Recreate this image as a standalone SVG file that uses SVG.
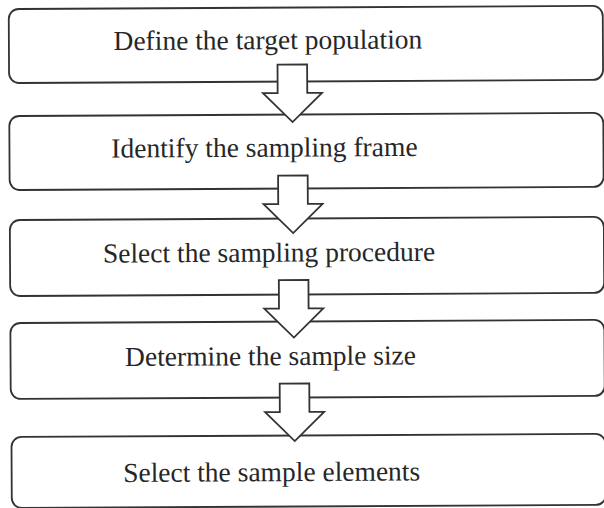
<svg xmlns="http://www.w3.org/2000/svg" width="604" height="508" viewBox="0 0 604 508">
  <style>
    .box { fill: #ffffff; stroke: #333333; stroke-width: 1.8; }
    .label { font-family: "Liberation Serif", "Times New Roman", serif; font-size: 27.5px; fill: #262626; text-anchor: middle; }
    .flow { fill: #ffffff; stroke: #333333; stroke-width: 1.8; stroke-linejoin: miter; }
  </style>
  <defs>
    <!-- block arrow: shaft 30 wide, head 59 wide, local origin at shaft top centre -->
    <path id="blockArrow" d="M -14.8 0 L 14.8 0 L 14.8 28.5 L 29.5 28.5 L 0 57.5 L -29.5 28.5 L -14.8 28.5 Z"/>
  </defs>
  <rect width="604" height="508" fill="#ffffff"/>
  <g transform="rotate(-0.3 302 254)">
    <g id="step-define-population">
      <rect class="box" x="10" y="7.5" width="594" height="74" rx="10"/>
      <text class="label" x="269" y="49">Define the target population</text>
    </g>
    <g id="step-identify-frame">
      <rect class="box" x="10" y="114.5" width="594" height="74" rx="10"/>
      <text class="label" x="265" y="156.5">Identify the sampling frame</text>
    </g>
    <g id="step-select-procedure">
      <rect class="box" x="10" y="218.5" width="594" height="76" rx="10"/>
      <text class="label" x="269" y="261.5">Select the sampling procedure</text>
    </g>
    <g id="step-determine-size">
      <rect class="box" x="10" y="321.5" width="594" height="76" rx="10"/>
      <text class="label" x="270" y="365">Determine the sample size</text>
    </g>
    <g id="step-select-elements">
      <rect class="box" x="10.5" y="435.5" width="594" height="71" rx="10"/>
      <text class="label" x="270.5" y="481">Select the sample elements</text>
    </g>
    <g id="connectors">
      <use href="#blockArrow" class="flow" transform="translate(293.3 64.5)"/>
      <use href="#blockArrow" class="flow" transform="translate(293.3 175.5)"/>
      <use href="#blockArrow" class="flow" transform="translate(293.5 280)"/>
      <use href="#blockArrow" class="flow" transform="translate(293.8 383.5)"/>
    </g>
  </g>
</svg>
